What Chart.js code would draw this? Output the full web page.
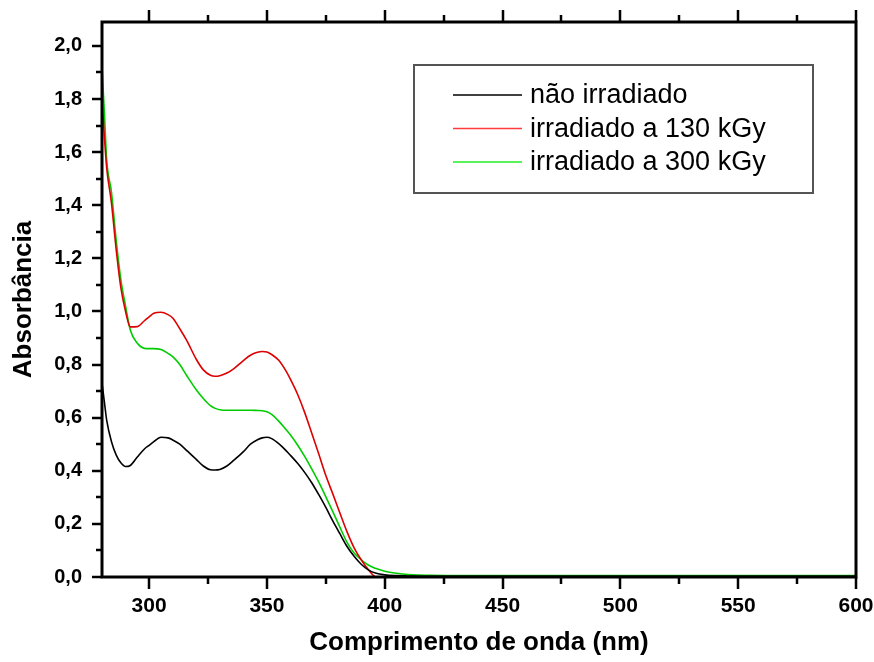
<!DOCTYPE html>
<html>
<head>
<meta charset="utf-8">
<script src="https://cdn.jsdelivr.net/npm/chart.js@4.4.0/dist/chart.umd.min.js"></script>
<style>
    html, body { margin: 0; padding: 0; background: #fff; }
    #grafico { display: block; }
</style>
</head>
<body>
<canvas id="grafico" width="874" height="662"></canvas>
<script>
// ========== DADOS ==========
const comprimentos = [
    280, 281, 282, 284, 286, 288, 290, 292,
    295, 298, 300, 302, 305, 308, 310,
    313, 316, 320, 323, 326, 328, 330,
    333, 336, 340, 343, 346, 348, 350,
    352, 355, 358, 360, 363, 366, 369,
    372, 375, 378, 381, 384, 387, 390,
    393, 396, 400, 405, 410, 415, 420,
    430, 450, 500, 550, 600
];

const naoIrradiado = [
    0.73, 0.66, 0.59, 0.51, 0.46, 0.43, 0.416, 0.42,
    0.452, 0.482, 0.496, 0.51, 0.526, 0.524, 0.516,
    0.5, 0.476, 0.443, 0.418, 0.404, 0.403, 0.405,
    0.418, 0.44, 0.472, 0.5, 0.517, 0.524, 0.526,
    0.521, 0.502, 0.477, 0.458, 0.428, 0.394, 0.355,
    0.31, 0.262, 0.21, 0.162, 0.115, 0.078, 0.048,
    0.027, 0.015, 0.008, 0.005, 0.004, 0.003, 0.003,
    0.003, 0.003, 0.003, 0.003, 0.003
];

const irradiado130 = [
    1.80, 1.66, 1.54, 1.41, 1.235, 1.09, 1.0, 0.942,
    0.943, 0.965, 0.98, 0.993, 0.997, 0.988, 0.975,
    0.935, 0.89, 0.82, 0.78, 0.76, 0.756, 0.758,
    0.768, 0.785, 0.815, 0.835, 0.846, 0.849, 0.847,
    0.838, 0.816, 0.777, 0.744, 0.688, 0.62, 0.542,
    0.463, 0.382, 0.312, 0.24, 0.17, 0.11, 0.065,
    0.028, 0.0, -0.008, -0.008, -0.008, -0.008, -0.008,
    -0.008, -0.008, -0.008, -0.008, -0.008
];

const irradiado300 = [
    1.92, 1.75, 1.57, 1.45, 1.27, 1.12, 1.02, 0.93,
    0.88, 0.861, 0.86, 0.86, 0.857, 0.842, 0.83,
    0.80, 0.758, 0.705, 0.672, 0.645, 0.635, 0.63,
    0.628, 0.628, 0.628, 0.628, 0.627, 0.626, 0.622,
    0.612, 0.587, 0.556, 0.535, 0.497, 0.454, 0.407,
    0.357, 0.302, 0.245, 0.187, 0.13, 0.09, 0.065,
    0.045, 0.033, 0.022, 0.014, 0.009, 0.007, 0.006,
    0.005, 0.005, 0.005, 0.005, 0.005
];

const nomesSeries = ["não irradiado", "irradiado a 130 kGy", "irradiado a 300 kGy"];
const coresSeries = ["#000000", "#dd0000", "#00cc00"];
const coresLegenda = ["#000000", "#ff3b3b", "#22ee22"];

const ticksX = [300, 350, 400, 450, 500, 550, 600];
const ticksXMenores = [325, 375, 425, 475, 525, 575];
const ticksY = [0, 0.2, 0.4, 0.6, 0.8, 1.0, 1.2, 1.4, 1.6, 1.8, 2.0];
const ticksYMenores = [0.1, 0.3, 0.5, 0.7, 0.9, 1.1, 1.3, 1.5, 1.7, 1.9];

// ========== EIXOS E LEGENDA ==========
const molduraPlugin = {
    id: "moldura",
    afterDraw(chart) {
        const { ctx, chartArea: a, scales: { x, y } } = chart;
        ctx.save();
        ctx.strokeStyle = "#000";
        ctx.lineCap = "butt";

        // ticks
        ctx.lineWidth = 2.5;
        ctx.beginPath();
        ticksX.forEach(v => {
            const px = Math.round(x.getPixelForValue(v));
            ctx.moveTo(px, a.bottom); ctx.lineTo(px, a.bottom + 12);
            ctx.moveTo(px, a.top); ctx.lineTo(px, a.top - 12);
        });
        ticksXMenores.forEach(v => {
            const px = Math.round(x.getPixelForValue(v));
            ctx.moveTo(px, a.bottom); ctx.lineTo(px, a.bottom + 7);
            ctx.moveTo(px, a.top); ctx.lineTo(px, a.top - 7);
        });
        ticksY.forEach(v => {
            const py = Math.round(y.getPixelForValue(v));
            ctx.moveTo(a.left, py); ctx.lineTo(a.left - 10, py);
        });
        ticksYMenores.forEach(v => {
            const py = Math.round(y.getPixelForValue(v));
            ctx.moveTo(a.left, py); ctx.lineTo(a.left - 6, py);
        });
        ctx.stroke();

        // moldura
        ctx.lineWidth = 3;
        ctx.strokeRect(a.left, a.top, a.right - a.left, a.bottom - a.top);

        // legenda
        const lx = a.left + 312, ly = a.top + 43;
        ctx.lineWidth = 2;
        ctx.strokeStyle = "#555";
        ctx.strokeRect(lx, ly, 399, 128);
        ctx.font = "27px 'Liberation Sans', Arial, sans-serif";
        ctx.textBaseline = "middle";
        ctx.fillStyle = "#000";
        chart.data.datasets.forEach((ds, i) => {
            const ry = ly + 30 + i * 33.5;
            ctx.strokeStyle = coresLegenda[i];
            ctx.lineWidth = 1.5;
            ctx.beginPath();
            ctx.moveTo(lx + 39, ry);
            ctx.lineTo(lx + 108, ry);
            ctx.stroke();
            ctx.fillText(ds.label, lx + 116, ry + 1);
        });
        ctx.restore();
    }
};

function semPadding(scale) {
    scale.paddingLeft = 0;
    scale.paddingRight = 0;
    scale.paddingTop = 0;
    scale.paddingBottom = 0;
}

// ========== GRAFICO ==========
const datasets = [naoIrradiado, irradiado130, irradiado300].map((serie, i) => ({
    label: nomesSeries[i],
    data: comprimentos.map((c, j) => ({ x: c, y: serie[j] })),
    borderColor: coresSeries[i],
    borderWidth: 1.6,
    pointRadius: 0,
    cubicInterpolationMode: "monotone",
    fill: false
}));

new Chart(document.getElementById("grafico").getContext("2d"), {
    type: "line",
    data: { datasets },
    options: {
        responsive: false,
        animation: false,
        devicePixelRatio: 1,
        layout: { padding: { top: 22, right: 18, left: 0, bottom: 0 } },
        plugins: { legend: { display: false }, tooltip: { enabled: false } },
        scales: {
            x: {
                type: "linear",
                min: 280,
                max: 600,
                afterBuildTicks: scale => { scale.ticks = ticksX.map(v => ({ value: v })); },
                afterFit: scale => { scale.height = 85; semPadding(scale); },
                grid: { display: false, drawTicks: false },
                border: { display: false },
                ticks: {
                    padding: 17,
                    color: "#000",
                    maxRotation: 0,
                    font: { family: "'Liberation Sans', Arial, sans-serif", size: 21, weight: "bold" }
                },
                title: {
                    display: true,
                    text: "Comprimento de onda (nm)",
                    color: "#000",
                    padding: { top: 0, bottom: 4 },
                    font: { family: "'Liberation Sans', Arial, sans-serif", size: 26, weight: "bold" }
                }
            },
            y: {
                min: 0,
                max: 2.09,
                afterBuildTicks: scale => { scale.ticks = ticksY.map(v => ({ value: v })); },
                afterFit: scale => { scale.width = 102; semPadding(scale); },
                grid: { display: false, drawTicks: false },
                border: { display: false },
                ticks: {
                    padding: 20,
                    color: "#000",
                    callback: v => v.toFixed(1).replace(".", ","),
                    font: { family: "'Liberation Sans', Arial, sans-serif", size: 20, weight: "bold" }
                },
                title: {
                    display: true,
                    text: "Absorbância",
                    color: "#000",
                    padding: { top: 8, bottom: 0 },
                    font: { family: "'Liberation Sans', Arial, sans-serif", size: 26, weight: "bold" }
                }
            }
        }
    },
    plugins: [molduraPlugin]
});
</script>
</body>
</html>
